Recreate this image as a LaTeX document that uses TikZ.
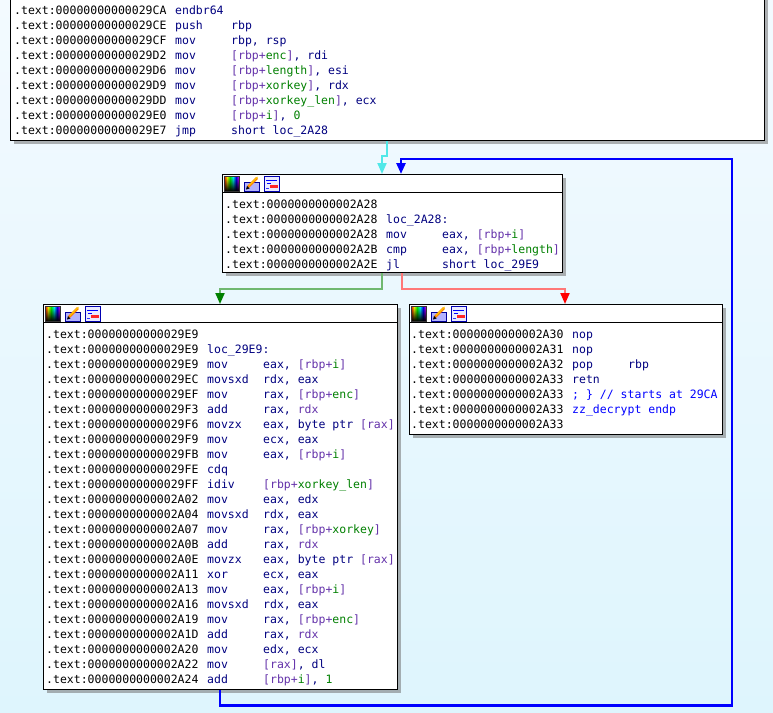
\documentclass[tikz,border=0pt]{standalone}
\usepackage{fontspec}
\setmonofont{DejaVu Sans Mono}
\usetikzlibrary{positioning,arrows.meta,shadows,fadings}
\definecolor{idaNavy}{RGB}{0,0,128}
\definecolor{idaMem}{RGB}{100,50,170}
\definecolor{idaName}{RGB}{0,128,0}
\definecolor{idaCmt}{RGB}{0,0,255}
\definecolor{bgTop}{RGB}{243,250,255}
\definecolor{bgBot}{RGB}{222,245,253}
\definecolor{edgeCyan}{RGB}{80,232,232}
\definecolor{edgeGreen}{RGB}{112,184,112}
\definecolor{headGreen}{RGB}{0,128,0}
\definecolor{edgeRed}{RGB}{255,120,120}
\definecolor{headRed}{RGB}{255,0,0}
\definecolor{edgeBlue}{RGB}{0,0,255}
\pgfdeclarehorizontalshading{rainbow}{100bp}{color(0bp)=(red); color(25bp)=(red);
  color(35bp)=(yellow); color(45bp)=(green); color(55bp)=(cyan);
  color(65bp)=(blue); color(75bp)=(magenta); color(100bp)=(magenta)}
\tikzfading[name=icondark,top color=transparent!100,bottom color=transparent!0]

\newcommand{\codefont}{\fontsize{11.5}{15}\selectfont\ttfamily}
\newcommand{\insn}[3]{\strut\makebox[161pt][l]{.text:#1}\makebox[56pt][l]{\color{idaNavy}#2}{\color{idaNavy}#3}}
\newcommand{\stk}[1]{\textcolor{idaMem}{[rbp+}\textcolor{idaName}{#1}\textcolor{idaMem}{]}}
\newcommand{\mref}[1]{\textcolor{idaMem}{#1}}
\newcommand{\imm}[1]{\textcolor{idaName}{#1}}

\begin{document}
\begin{tikzpicture}[
x=1pt,y=-1pt,
blk/.style={
    draw=black,
    line width=1.2pt,
    fill=white,
    anchor=north west,
    inner sep=0pt,
    drop shadow={shadow xshift=3pt,shadow yshift=-3pt,fill=black!55,opacity=.55}
},
code/.style={anchor=north west,inner sep=0pt,align=left,font=\codefont},
hdr/.style={line width=1pt},
edge/.style={line width=2pt},
flow/.style={edge,draw=edgeCyan,-{Triangle[length=11pt,width=9pt]}},
yes/.style={edge,draw=edgeGreen,-{Triangle[length=11pt,width=9pt,color=headGreen,fill=headGreen]}},
no/.style={edge,draw=edgeRed,-{Triangle[length=11pt,width=9pt,color=headRed,fill=headRed]}},
back/.style={line width=2.6pt,draw=edgeBlue,-{Triangle[length=11pt,width=9pt]}},
hdricons/.pic={
    \shade[shading=rainbow] (0,0) rectangle (15,15);
    \fill[black,path fading=icondark] (0,0) rectangle (15,15);
    \draw[black!80,line width=.8pt] (0,0) rectangle (15,15);
    \draw[blue!60!black,fill=blue!30,line width=1pt] (20,6) rectangle (35,15);
    \draw[orange,line width=2.6pt] (24,11) -- (33,2);
    \draw[yellow!70!orange,line width=1pt] (25,9.5) -- (33.5,1);
    \fill[black] (22,13.5) -- (23,10) -- (25.5,12.5) -- cycle;
    \draw[blue!70!black,fill=blue!8,line width=1pt] (40,0) rectangle (55,15);
    \draw[blue,line width=1pt] (42,4) -- (53,4);
    \draw[blue,line width=1pt] (43,7.5) -- (47,7.5);
    \fill[red!85] (46,9) rectangle (54,12);
    \draw[blue!80,line width=.6pt] (42,12) -- (45,12);
}
]

\useasboundingbox (0,0) rectangle (773,712);
\shade[top color=bgTop,bottom color=bgBot] (0,0) rectangle (773,712);

% blocks
\node[blk,minimum width=754pt,minimum height=160pt] (entry) at (10,-20) {};
\node[blk,minimum width=340pt,minimum height=98pt] (cond) at (222,174) {};
\node[blk,minimum width=354pt,minimum height=385pt] (body) at (43,304) {};
\node[blk,minimum width=313pt,minimum height=130pt] (exit) at (409,304) {};

\foreach \b in {cond,body,exit}{
    \draw[hdr] ([yshift=-18.5pt]\b.north west) -- ([yshift=-18.5pt]\b.north east);
    \pic at ([xshift=2pt,yshift=-2pt]\b.north west) {hdricons};
}

\node[code] (entrytxt) at ([xshift=4pt,yshift=-24pt]entry.north west) {%
\insn{00000000000029CA}{endbr64}{}\\
\insn{00000000000029CE}{push}{rbp}\\
\insn{00000000000029CF}{mov}{rbp, rsp}\\
\insn{00000000000029D2}{mov}{\stk{enc}, rdi}\\
\insn{00000000000029D6}{mov}{\stk{length}, esi}\\
\insn{00000000000029D9}{mov}{\stk{xorkey}, rdx}\\
\insn{00000000000029DD}{mov}{\stk{xorkey\_len}, ecx}\\
\insn{00000000000029E0}{mov}{\stk{i}, \imm{0}}\\
\insn{00000000000029E7}{jmp}{short loc\_2A28}};

\node[code] (condtxt) at ([xshift=3pt,yshift=-23.5pt]cond.north west) {%
\insn{0000000000002A28}{}{}\\
\insn{0000000000002A28}{loc\_2A28:}{}\\
\insn{0000000000002A28}{mov}{eax, \stk{i}}\\
\insn{0000000000002A2B}{cmp}{eax, \stk{length}}\\
\insn{0000000000002A2E}{jl}{short loc\_29E9}};

\node[code] (bodytxt) at ([xshift=3pt,yshift=-23.5pt]body.north west) {%
\insn{00000000000029E9}{}{}\\
\insn{00000000000029E9}{loc\_29E9:}{}\\
\insn{00000000000029E9}{mov}{eax, \stk{i}}\\
\insn{00000000000029EC}{movsxd}{rdx, eax}\\
\insn{00000000000029EF}{mov}{rax, \stk{enc}}\\
\insn{00000000000029F3}{add}{rax, \mref{rdx}}\\
\insn{00000000000029F6}{movzx}{eax, byte ptr \mref{[rax]}}\\
\insn{00000000000029F9}{mov}{ecx, eax}\\
\insn{00000000000029FB}{mov}{eax, \stk{i}}\\
\insn{00000000000029FE}{cdq}{}\\
\insn{00000000000029FF}{idiv}{\stk{xorkey\_len}}\\
\insn{0000000000002A02}{mov}{eax, edx}\\
\insn{0000000000002A04}{movsxd}{rdx, eax}\\
\insn{0000000000002A07}{mov}{rax, \stk{xorkey}}\\
\insn{0000000000002A0B}{add}{rax, \mref{rdx}}\\
\insn{0000000000002A0E}{movzx}{eax, byte ptr \mref{[rax]}}\\
\insn{0000000000002A11}{xor}{ecx, eax}\\
\insn{0000000000002A13}{mov}{eax, \stk{i}}\\
\insn{0000000000002A16}{movsxd}{rdx, eax}\\
\insn{0000000000002A19}{mov}{rax, \stk{enc}}\\
\insn{0000000000002A1D}{add}{rax, \mref{rdx}}\\
\insn{0000000000002A20}{mov}{edx, ecx}\\
\insn{0000000000002A22}{mov}{\mref{[rax]}, dl}\\
\insn{0000000000002A24}{add}{\stk{i}, \imm{1}}};

\node[code] (exittxt) at ([xshift=2pt,yshift=-24pt]exit.north west) {%
\insn{0000000000002A30}{nop}{}\\
\insn{0000000000002A31}{nop}{}\\
\insn{0000000000002A32}{pop}{rbp}\\
\insn{0000000000002A33}{retn}{}\\
\insn{0000000000002A33}{\color{idaCmt}; \} // starts at 29CA}{}\\
\insn{0000000000002A33}{\color{idaCmt}zz\_decrypt endp}{}\\
\insn{0000000000002A33}{}{}};

% edges
\coordinate (backtop) at (732,159);
\draw[flow] ([xshift=377pt]entry.south west) -- ++(0,15) -| ([xshift=160pt]cond.north west);
\draw[yes] ([xshift=160pt]cond.south west) -- ++(0,16) -| ([xshift=177pt]body.north west);
\draw[no] ([xshift=180pt]cond.south west) -- ++(0,16) -| ([xshift=156pt]exit.north west);
\draw[back] ([xshift=177pt]body.south west) -- ++(0,15) -| (backtop) -| ([xshift=179pt]cond.north west);

\end{tikzpicture}
\end{document}
